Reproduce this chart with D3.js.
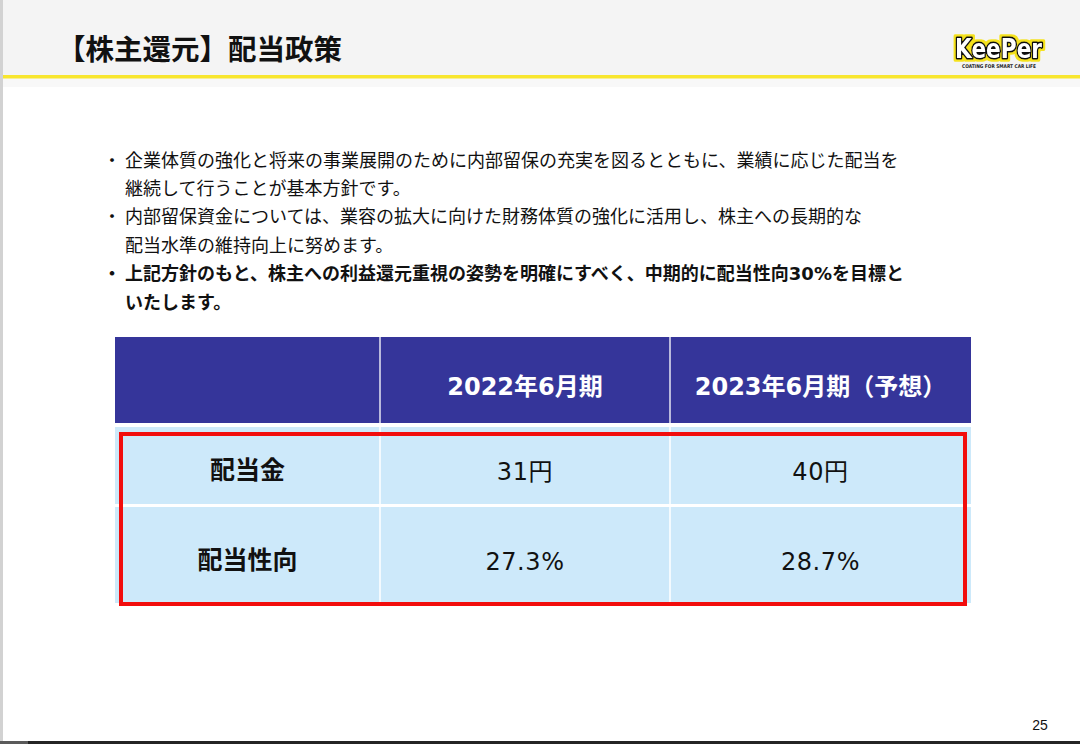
<!DOCTYPE html>
<html><head><meta charset="utf-8">
<script src="https://cdn.jsdelivr.net/npm/d3@7"></script>
<style>
html,body{margin:0;padding:0;background:#fff;}
svg{display:block;}
</style></head><body>
<svg id="chart" width="1080" height="744"></svg>
<script>
// ---- data ----
const title = "【株主還元】配当政策";
const bulletTexts = [
  "企業体質の強化と将来の事業展開のために内部留保の充実を図るとともに、業績に応じた配当を",
  "継続して行うことが基本方針です。",
  "内部留保資金については、業容の拡大に向けた財務体質の強化に活用し、株主への長期的な",
  "配当水準の維持向上に努めます。",
  "上記方針のもと、株主への利益還元重視の姿勢を明確にすべく、中期的に配当性向30%を目標と",
  "いたします。"
];
const bulletStarts = [true, false, true, false, true, false];
const bulletBold = [false, false, false, false, true, true];
const columnHeaders = ["2022年6月期", "2023年6月期（予想）"];
const rowLabels = ["配当金", "配当性向"];
const dividendYen = [31, 40];
const payoutRatioPct = [27.3, 28.7];
const pageNumber = "25";
const logoText = "KeePer";
const logoTagline = "COATING FOR SMART CAR LIFE";

// ---- drawing ----
const svg = d3.select("#chart");
const JP = "'Noto Sans CJK JP', 'Noto Sans', sans-serif";
const MIX = "'DejaVu Sans', 'Noto Sans CJK JP', sans-serif";

// filter for yellow outline of logo
const defs = svg.append("defs");
const f = defs.append("filter").attr("id","yglow").attr("x","-10%").attr("y","-20%").attr("width","120%").attr("height","140%");
f.append("feMorphology").attr("in","SourceAlpha").attr("operator","dilate").attr("radius",2).attr("result","d");
f.append("feFlood").attr("flood-color","#f5e21a").attr("result","c");
f.append("feComposite").attr("in","c").attr("in2","d").attr("operator","in").attr("result","o");
const m = f.append("feMerge");
m.append("feMergeNode").attr("in","o");
m.append("feMergeNode").attr("in","SourceGraphic");

// header band
svg.append("rect").attr("x",0).attr("y",0).attr("width",1080).attr("height",76).attr("fill","#f4f4f4");
svg.append("rect").attr("x",0).attr("y",78).attr("width",1080).attr("height",9).attr("fill","#f8f8f8");
svg.append("rect").attr("x",0).attr("y",75).attr("width",1080).attr("height",3.5).attr("fill","#f8e62e");
svg.append("rect").attr("x",0).attr("y",0).attr("width",3).attr("height",744).attr("fill","#d2d2d2");
svg.append("rect").attr("x",0).attr("y",741).attr("width",1080).attr("height",3).attr("fill","#242424");
svg.append("rect").attr("x",0).attr("y",741).attr("width",28).attr("height",3).attr("fill","#5a5a5a");

// title
svg.append("text").attr("x",57).attr("y",60)
  .attr("font-family",JP).attr("font-weight",700).attr("font-size",28.5)
  .attr("fill","#111").text(title);

// logo
svg.append("text").attr("x",955).attr("y",57.5)
  .attr("font-family","'DejaVu Sans', sans-serif").attr("font-weight",900)
  .attr("font-size",27).attr("textLength",87).attr("lengthAdjust","spacingAndGlyphs")
  .attr("fill","#fff").attr("stroke","#111").attr("stroke-width",3.5)
  .attr("stroke-linejoin","round").attr("paint-order","stroke")
  .attr("filter","url(#yglow)").text(logoText);
svg.append("text").attr("x",962).attr("y",68)
  .attr("font-family","'DejaVu Sans', sans-serif").attr("font-weight",700)
  .attr("font-size",5).attr("textLength",74).attr("lengthAdjust","spacingAndGlyphs")
  .attr("fill","#222").text(logoTagline);

// bullets
const lineY = d3.scaleLinear().domain([0,1]).range([166.5,194.9]);
const bl = svg.append("g");
bulletTexts.forEach((t,i)=>{
  const y = lineY(i);
  if (bulletStarts[i]) {
    bl.append("text").attr("x",103).attr("y",y).attr("font-family",JP)
      .attr("font-weight",bulletBold[i]?700:400).attr("font-size",18).attr("fill","#111").text("・");
  }
  bl.append("text").attr("x",125).attr("y",y).attr("font-family",MIX)
    .attr("font-weight",bulletBold[i]?700:400).attr("font-size",18)
    .attr("fill","#111").text(t);
});

// table
const colKeys = ["label", ...columnHeaders];
const colLeft = d3.scaleOrdinal().domain(colKeys).range([115,380,670]);
const colRight = d3.scaleOrdinal().domain(colKeys).range([380,670,971]);
const rowKeys = ["header", ...rowLabels];
const rowTop = d3.scaleOrdinal().domain(rowKeys).range([337,427,507]);
const rowBottom = d3.scaleOrdinal().domain(rowKeys).range([423,504,603]);
const cx = k => (colLeft(k)+colRight(k))/2;

const tb = svg.append("g");
tb.append("rect").attr("x",colLeft("label")).attr("y",rowTop("header"))
  .attr("width",colRight(columnHeaders[1])-colLeft("label"))
  .attr("height",rowBottom("header")-rowTop("header")).attr("fill","#35359a");
rowLabels.forEach(r=>{
  tb.append("rect").attr("x",colLeft("label")).attr("y",rowTop(r))
    .attr("width",colRight(columnHeaders[1])-colLeft("label"))
    .attr("height",rowBottom(r)-rowTop(r)).attr("fill","#cde9fa");
});
columnHeaders.forEach(c=>{
  tb.append("line").attr("x1",colLeft(c)).attr("x2",colLeft(c))
    .attr("y1",rowTop("header")).attr("y2",rowBottom("header"))
    .attr("stroke","#e6e6f2").attr("stroke-width",1.5);
  tb.append("line").attr("x1",colLeft(c)).attr("x2",colLeft(c))
    .attr("y1",rowTop(rowLabels[0])).attr("y2",rowBottom(rowLabels[1]))
    .attr("stroke","#ffffff").attr("stroke-width",1.5);
});
tb.selectAll("text.h").data(columnHeaders).join("text").attr("class","h")
  .attr("x",d=>cx(d)).attr("y",395).attr("text-anchor","middle")
  .attr("font-family",MIX).attr("font-weight",700).attr("font-size",24)
  .attr("fill","#fff").text(d=>d);
const rowBase = {};
rowBase[rowLabels[0]] = 480; rowBase[rowLabels[1]] = 570;
tb.selectAll("text.r").data(rowLabels).join("text").attr("class","r")
  .attr("x",cx("label")).attr("y",d=>rowBase[d]-1).attr("text-anchor","middle")
  .attr("font-family",JP).attr("font-weight",700).attr("font-size",25)
  .attr("fill","#111").text(d=>d);
const cells = [];
columnHeaders.forEach((c,i)=>{
  cells.push({col:c,row:rowLabels[0],txt:dividendYen[i]+"円"});
  cells.push({col:c,row:rowLabels[1],txt:payoutRatioPct[i].toFixed(1)+"%"});
});
tb.selectAll("text.v").data(cells).join("text").attr("class","v")
  .attr("x",d=>cx(d.col)).attr("y",d=>rowBase[d.row]).attr("text-anchor","middle")
  .attr("font-family",MIX).attr("font-weight",400).attr("font-size",24)
  .attr("letter-spacing",0.6).attr("fill","#111").text(d=>d.txt);

// red highlight box
svg.append("rect").attr("x",121).attr("y",434).attr("width",844).attr("height",170)
  .attr("fill","none").attr("stroke","#f20d0d").attr("stroke-width",4);

// page number
svg.append("text").attr("x",1040).attr("y",730).attr("text-anchor","middle")
  .attr("font-family","'Liberation Sans Narrow','Liberation Sans',sans-serif")
  .attr("font-size",14).attr("fill","#111").text(pageNumber);
</script>
</body></html>
